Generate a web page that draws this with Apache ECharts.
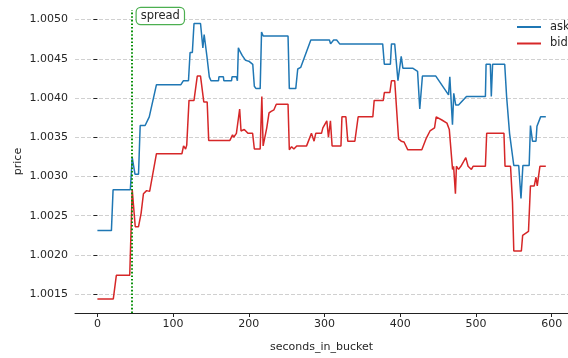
<!DOCTYPE html>
<html>
<head>
<meta charset="utf-8">
<script src="https://cdn.jsdelivr.net/npm/echarts@6/dist/echarts.min.js"></script>
<style>html,body{margin:0;padding:0;background:#fff;}#c{width:568px;height:358px;}</style>
</head>
<body>
<div id="c"></div>
<script>
var askX = [0,18.5,20.7,43.5,46,49.6,54.3,56.5,63,68.5,78,110.3,113.4,120.3,122.4,125.4,127.6,136.2,139.3,141,144.8,147.8,150,160,160.5,166.4,167,177.2,177.8,183.6,184.9,186.2,188,191.4,195.7,200,205.2,207.3,209.5,215,216.8,219,251.8,253.5,262,264.6,268.5,281.9,306.5,308,310,312,316,320,376.8,379,387,388.4,392.7,397,401.3,403.5,416.4,422.9,425.8,429.3,447,463.8,465.5,469,470.7,473.3,477,487.5,512.5,513.4,519,520.3,522,538,540.5,544.4,547,550,556.5,559.5,562,570.3,572,574.7,579.3,580.6,583,585.4,592.3];
var askY = [1.00231,1.00231,1.00283,1.00283,1.00324,1.00303,1.00303,1.00365,1.00365,1.00376,1.00417,1.00417,1.00422,1.00422,1.00458,1.00458,1.00495,1.00495,1.00464,1.00481,1.00452,1.00427,1.00422,1.00422,1.00427,1.00427,1.00422,1.00422,1.00427,1.00427,1.00422,1.00464,1.00460,1.00454,1.00448,1.00447,1.00443,1.00415,1.00412,1.00412,1.00484,1.00479,1.00479,1.00412,1.00412,1.00437,1.00439,1.00474,1.00474,1.00469,1.00469,1.00474,1.00474,1.00469,1.00469,1.00443,1.00443,1.00469,1.00469,1.00422,1.00453,1.00438,1.00438,1.00434,1.00386,1.00428,1.00428,1.00404,1.00427,1.00366,1.00406,1.00391,1.00391,1.00402,1.00402,1.00443,1.00443,1.00402,1.00443,1.00443,1.00402,1.00355,1.00355,1.00314,1.00314,1.00272,1.00314,1.00314,1.00365,1.00345,1.00345,1.00364,1.00364,1.00376,1.00376];
var bidX = [0,21,25,42.7,46,50,54.3,57.7,60.8,65,67,69,78,111.6,113.8,116.5,118,121,127.6,131.9,136.2,140.5,145,147,175,178.5,180,183.6,187.9,189.7,194,198.8,205,207.3,215,217.2,218.9,221,223.7,226.7,229.5,233.2,236.3,251.8,253.5,256.5,259.5,263.3,276.3,279.5,282.7,286.2,288.4,296,297.8,303,305.2,307.8,310,321.7,323,328.2,330.7,340.1,344.4,363.8,365.6,377.6,379,386.3,388.4,392.7,397.8,401.3,405,410,428.5,434.5,439.3,442.3,445.3,447.5,455,461.7,464.8,469.1,470.5,472.9,474.2,477,480.1,486.6,489.6,494,496.2,512.5,514.2,537,538.4,545.7,548.3,550,560,561.7,569.4,572,577,579.3,581,584.5,592.3];
var bidY = [1.00144,1.00144,1.00174,1.00174,1.00283,1.00236,1.00236,1.00253,1.00278,1.00282,1.00284,1.00281,1.00329,1.00329,1.00339,1.00335,1.00340,1.00397,1.00397,1.00428,1.00428,1.00395,1.00395,1.00346,1.00346,1.00353,1.00350,1.00355,1.00386,1.00358,1.00360,1.00355,1.00355,1.00335,1.00335,1.00402,1.00339,1.00339,1.00362,1.00381,1.00383,1.00385,1.00392,1.00392,1.00334,1.00338,1.00335,1.00339,1.00339,1.00347,1.00355,1.00345,1.00355,1.00355,1.00362,1.00371,1.00350,1.00371,1.00339,1.00339,1.00376,1.00376,1.00345,1.00345,1.00376,1.00376,1.00397,1.00397,1.00407,1.00407,1.00422,1.00422,1.00348,1.00345,1.00344,1.00334,1.00334,1.00349,1.00358,1.00360,1.00362,1.00376,1.00372,1.00368,1.00360,1.00309,1.00313,1.00278,1.00313,1.00309,1.00313,1.00324,1.00313,1.00309,1.00313,1.00313,1.00355,1.00355,1.00313,1.00313,1.00267,1.00205,1.00205,1.00225,1.00230,1.00288,1.00288,1.00299,1.00288,1.00313,1.00313];
var xTicks = [0,100,200,300,400,500,600];
var yTicks = [1.0015,1.0020,1.0025,1.0030,1.0035,1.0040,1.0045,1.0050];
var spreadX = 45.3;
var spreadLabel = 'spread';
var seriesNames = ['ask','bid'];

var xMin = -29.6, xMax = 621.6, yMin = 1.00126, yMax = 1.005122;
function zip(a,b){return a.map(function(v,i){return [v,b[i]];});}
var txt = '#262626';
var font = 'DejaVu Sans';
var chart = echarts.init(document.getElementById('c'), null, {renderer:'canvas'});
chart.setOption({
  animation:false,
  backgroundColor:'#fff',
  textStyle:{fontFamily:font},
  grid:{left:75, top:10, width:504, height:307.5, containLabel:false},
  legend:{
    orient:'vertical', left:512, top:15, itemGap:2.5, itemWidth:24, itemHeight:2, icon:'rect',
    textStyle:{fontFamily:font, fontSize:11.5, color:txt, padding:[0,0,0,4], lineHeight:14},
    data:seriesNames
  },
  xAxis:{
    type:'value', min:xMin, max:xMax,
    name:'seconds_in_bucket', nameLocation:'middle', nameGap:29, nameMoveOverlap:false,
    nameTextStyle:{fontFamily:font, fontSize:11, color:txt},
    axisLine:{show:true, onZero:false, lineStyle:{color:'#222', width:1}},
    axisTick:{show:true, length:4, customValues:xTicks, lineStyle:{color:'#222'}},
    axisLabel:{customValues:xTicks, fontFamily:font, fontSize:11, color:txt, margin:6},
    splitLine:{show:false}
  },
  yAxis:{
    type:'value', min:yMin, max:yMax,
    name:'price', nameLocation:'middle', nameGap:51, nameMoveOverlap:false,
    nameTextStyle:{fontFamily:font, fontSize:11, color:txt},
    axisLine:{show:false},
    axisTick:{show:true, length:4, customValues:yTicks, lineStyle:{color:'#222'}},
    axisLabel:{customValues:yTicks, fontFamily:font, fontSize:11, color:txt, margin:7,
      formatter:function(v){return v.toFixed(4);}},
    splitLine:{show:true, lineStyle:{color:'#d0d0d0', type:[4,2], width:1}}
  },
  series:[
    {name:seriesNames[0], type:'line', data:zip(askX,askY), showSymbol:false, symbol:'none',
     lineStyle:{color:'#1f77b4', width:1.5}, itemStyle:{color:'#1f77b4'}, z:3,
     markLine:{silent:true, symbol:['none','none'], label:{show:false},
       lineStyle:{type:[1.6,2], color:'#0a900a', width:2},
       data:[{xAxis:spreadX}]},
     markPoint:{silent:true, data:[{coord:[spreadX, yMax], symbol:'rect', symbolSize:0,
       label:{show:true, position:'right', distance:5, offset:[0,6], formatter:spreadLabel,
         fontFamily:font, fontSize:11.5, color:txt, backgroundColor:'#fff',
         borderColor:'#4caf50', borderWidth:1.2, borderRadius:4, padding:[2,4,2,4]}}]}
    },
    {name:seriesNames[1], type:'line', data:zip(bidX,bidY), showSymbol:false, symbol:'none',
     lineStyle:{color:'#d62728', width:1.5}, itemStyle:{color:'#d62728'}, z:2}
  ]
});
</script>
</body>
</html>
